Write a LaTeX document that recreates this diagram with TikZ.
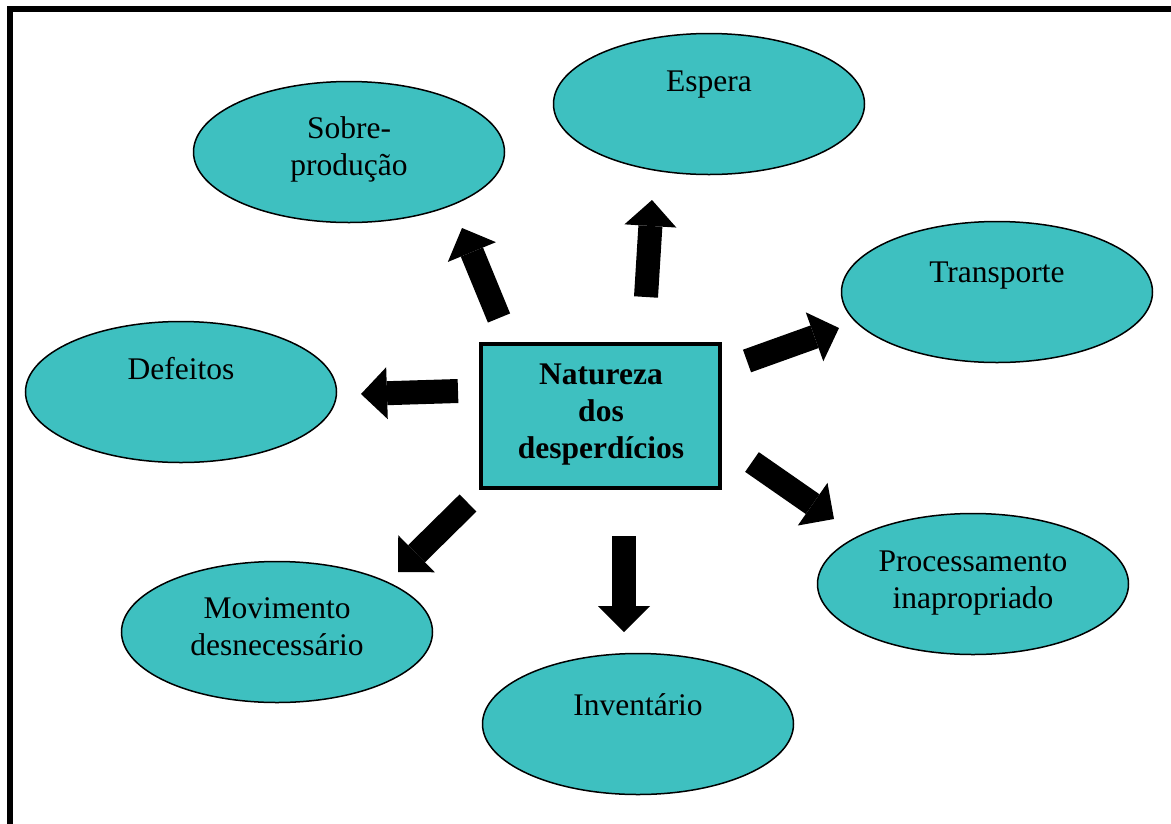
\documentclass[tikz,border=0pt]{standalone}
\usepackage{fontspec}
\setmainfont{Liberation Serif}
\usetikzlibrary{arrows.meta,shapes.geometric}
\definecolor{wastefill}{RGB}{62,192,192}
\newcommand{\tx}{\fontsize{31.5}{36.8}\selectfont}

\begin{document}
\begin{tikzpicture}[
  x=1pt, y=-1pt,
  waste/.style={draw, ellipse, line width=1.5pt, fill=wastefill, minimum width=311pt, minimum height=141pt, inner sep=0pt},
  lbl/.style={font=\tx, align=center, inner sep=0pt, anchor=base},
  core/.style={draw, line width=4pt, fill=wastefill, minimum width=239pt, minimum height=144pt, inner sep=0pt},
  blk/.style={line width=24pt, -{Triangle[length=26pt, width=52pt, line width=0pt]}},
]
  \useasboundingbox (0,0) rectangle (1171,823);
  % ---------------- frame
  \draw[line width=6pt] (10,9) rectangle (1200,850);

  % ---------------- centre (base = last line)
  \node[core] (core) at (600.5,416) {};
  \node[lbl, font=\tx\bfseries] (core-t) at (601,458) {Natureza\\dos\\desperdícios};

  % ---------------- the seven wastes
  \node[waste] (sobre) at (349,152) {};
  \node[lbl] (sobre-t) at (349,175) {Sobre-\\produção};
  \node[waste] (espera) at (709,104) {};
  \node[lbl] (espera-t) at (709,91) {Espera};
  \node[waste] (transp) at (997,292) {};
  \node[lbl] (transp-t) at (997,282) {Transporte};
  \node[waste] (defeitos) at (181,392) {};
  \node[lbl] (defeitos-t) at (181,379) {Defeitos};
  \node[waste] (movim) at (277,632) {};
  \node[lbl] (movim-t) at (277,655) {Movimento\\desnecessário};
  \node[waste] (invent) at (638,724) {};
  \node[lbl] (invent-t) at (638,715) {Inventário};
  \node[waste] (proces) at (973,584) {};
  \node[lbl] (proces-t) at (973,608) {Processamento\\inapropriado};

  % ---------------- block arrows
  \foreach \n/\sx/\sy/\ex/\ey in {sobre/499/318/462/228, espera/646/297/652/200,
      transp/747/361/839/328, defeitos/458/391/361/394, movim/468/503/398/572,
      invent/624/536/624/632, proces/752/462/834/519} {
    \coordinate (\n-s) at (\sx,\sy);
    \coordinate (\n-e) at (\ex,\ey);
    \draw[blk] (\n-s) -- (\n-e);
  }
\end{tikzpicture}
\end{document}
